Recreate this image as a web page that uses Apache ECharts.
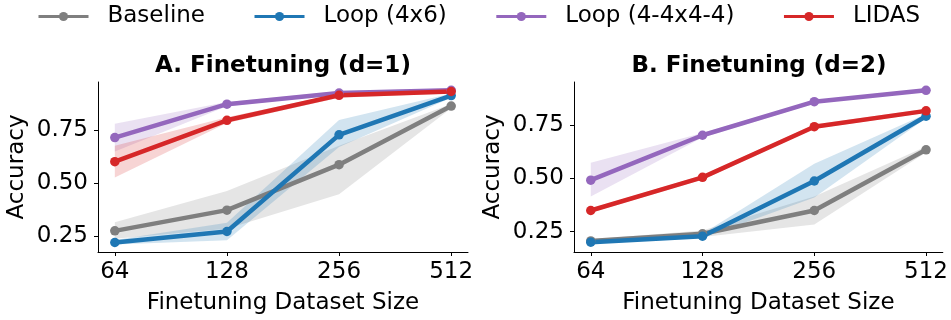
<!DOCTYPE html>
<html>
<head>
<meta charset="utf-8">
<script src="https://cdn.jsdelivr.net/npm/echarts@6/dist/echarts.min.js"></script>
<style>
html,body{margin:0;padding:0;background:#fff;}
#chart{width:951px;height:320px;}
</style>
</head>
<body>
<div id="chart"></div>
<script>
// ---- data ----
const sizes = [64, 128, 256, 512];
const tickLabels = ['64', '128', '256', '512'];
const yTicks = [0.25, 0.50, 0.75];
const seriesNames = ['Baseline', 'Loop (4x6)', 'Loop (4-4x4-4)', 'LIDAS'];
const seriesColors = ['#7f7f7f', '#1f77b4', '#9467bd', '#d62728'];
const panelTitles = ['A. Finetuning (d=1)', 'B. Finetuning (d=2)'];
const xName = 'Finetuning Dataset Size';
const yName = 'Accuracy';

// Panel A (d=1)
const A_baseline     = [0.275, 0.373, 0.588, 0.865];
const A_baseline_lo  = [0.238, 0.285, 0.448, 0.855];
const A_baseline_hi  = [0.316, 0.463, 0.678, 0.875];
const A_loop46       = [0.220, 0.272, 0.729, 0.915];
const A_loop46_lo    = [0.210, 0.230, 0.672, 0.905];
const A_loop46_hi    = [0.232, 0.313, 0.799, 0.925];
const A_loop4444     = [0.716, 0.874, 0.927, 0.940];
const A_loop4444_lo  = [0.650, 0.864, 0.920, 0.935];
const A_loop4444_hi  = [0.781, 0.884, 0.935, 0.948];
const A_lidas        = [0.602, 0.798, 0.916, 0.934];
const A_lidas_lo     = [0.527, 0.785, 0.905, 0.925];
const A_lidas_hi     = [0.677, 0.812, 0.925, 0.942];

// Panel B (d=2)
const B_baseline     = [0.207, 0.240, 0.349, 0.633];
const B_baseline_lo  = [0.200, 0.225, 0.284, 0.620];
const B_baseline_hi  = [0.215, 0.255, 0.414, 0.648];
const B_loop46       = [0.201, 0.229, 0.487, 0.790];
const B_loop46_lo    = [0.195, 0.220, 0.410, 0.780];
const B_loop46_hi    = [0.207, 0.240, 0.568, 0.800];
const B_loop4444     = [0.491, 0.701, 0.858, 0.911];
const B_loop4444_lo  = [0.414, 0.690, 0.850, 0.905];
const B_loop4444_hi  = [0.572, 0.712, 0.865, 0.917];
const B_lidas        = [0.349, 0.504, 0.741, 0.815];
const B_lidas_lo     = [0.339, 0.494, 0.731, 0.805];
const B_lidas_hi     = [0.359, 0.514, 0.751, 0.825];

const panels = [
  { means: [A_baseline, A_loop46, A_loop4444, A_lidas],
    los: [A_baseline_lo, A_loop46_lo, A_loop4444_lo, A_lidas_lo],
    his: [A_baseline_hi, A_loop46_hi, A_loop4444_hi, A_lidas_hi],
    yMin: 0.175, yMax: 0.979 },
  { means: [B_baseline, B_loop46, B_loop4444, B_lidas],
    los: [B_baseline_lo, B_loop46_lo, B_loop4444_lo, B_lidas_lo],
    his: [B_baseline_hi, B_loop46_hi, B_loop4444_hi, B_lidas_hi],
    yMin: 0.155, yMax: 0.950 }
];

// ---- chart ----
const FONT = 'DejaVu Sans';
const xs = sizes.map(s => Math.log2(s));
const xTickVals = xs.slice();

const grids = [
  { left: 98, width: 370, top: 82, bottom: 60 },
  { left: 574, width: 370, top: 82, bottom: 60 }
];

const xAxes = [], yAxes = [], series = [];
panels.forEach((p, gi) => {
  xAxes.push({
    type: 'value', gridIndex: gi, min: 5.85, max: 9.15,
    name: xName, nameLocation: 'middle', nameGap: 40,
    nameTextStyle: { fontFamily: FONT, fontSize: 23, color: '#000' },
    axisLine: { show: true, lineStyle: { color: '#000', width: 1 } },
    axisTick: { show: true, length: 4, customValues: xTickVals, lineStyle: { color: '#000' } },
    axisLabel: { customValues: xTickVals, margin: 9, fontFamily: FONT, fontSize: 23, color: '#000',
      formatter: v => { const i = xTickVals.findIndex(t => Math.abs(t - v) < 1e-6); return i >= 0 ? tickLabels[i] : ''; } },
    splitLine: { show: false }
  });
  yAxes.push({
    type: 'value', gridIndex: gi, min: p.yMin, max: p.yMax,
    name: yName, nameLocation: 'middle', nameGap: 69,
    nameTextStyle: { fontFamily: FONT, fontSize: 23, color: '#000' },
    axisLine: { show: true, lineStyle: { color: '#000', width: 1 } },
    axisTick: { show: true, length: 4, customValues: yTicks, lineStyle: { color: '#000' } },
    axisLabel: { customValues: yTicks, margin: 10, fontFamily: FONT, fontSize: 23, color: '#000',
      formatter: v => v.toFixed(2) },
    splitLine: { show: false }
  });
  // bands
  seriesNames.forEach((nm, si) => {
    const lo = p.los[si], hi = p.his[si], col = seriesColors[si];
    series.push({
      type: 'custom', name: nm + ' band ' + gi, xAxisIndex: gi, yAxisIndex: gi,
      silent: true, z: 1, clip: true,
      data: xs.map((x, i) => [x, lo[i], hi[i]]),
      encode: { x: 0, y: [1, 2] },
      renderItem: (params, api) => {
        if (params.dataIndex !== 0) return null;
        const pts = [];
        for (let i = 0; i < xs.length; i++) pts.push(api.coord([xs[i], hi[i]]));
        for (let i = xs.length - 1; i >= 0; i--) pts.push(api.coord([xs[i], lo[i]]));
        return { type: 'polygon', shape: { points: pts }, style: { fill: col, opacity: 0.2 } };
      }
    });
  });
  // lines
  seriesNames.forEach((nm, si) => {
    series.push({
      type: 'line', name: nm, xAxisIndex: gi, yAxisIndex: gi, z: 3,
      data: xs.map((x, i) => [x, p.means[si][i]]),
      symbol: 'circle', symbolSize: 9.5, showSymbol: true,
      lineStyle: { color: seriesColors[si], width: 4.5 },
      itemStyle: { color: seriesColors[si] },
      emphasis: { disabled: true }
    });
  });
});

const chart = echarts.init(document.getElementById('chart'), null, { renderer: 'canvas' });
chart.setOption({
  animation: false,
  backgroundColor: '#fff',
  title: [
    { text: panelTitles[0], left: 283, top: 55, padding: 0, textAlign: 'center',
      textStyle: { fontFamily: FONT, fontSize: 23, fontWeight: 'bold', color: '#000' } },
    { text: panelTitles[1], left: 759, top: 55, padding: 0, textAlign: 'center',
      textStyle: { fontFamily: FONT, fontSize: 23, fontWeight: 'bold', color: '#000' } }
  ],
  legend: {
    data: seriesNames, left: 37, top: 5, padding: 0,
    itemWidth: 50, itemHeight: 11.5, itemGap: 48,
    lineStyle: { width: 3 },
    textStyle: { fontFamily: FONT, fontSize: 23, color: '#000', padding: [0, 0, 0, 14] },
    selectedMode: false
  },
  grid: grids,
  xAxis: xAxes,
  yAxis: yAxes,
  series: series
});
</script>
</body>
</html>
